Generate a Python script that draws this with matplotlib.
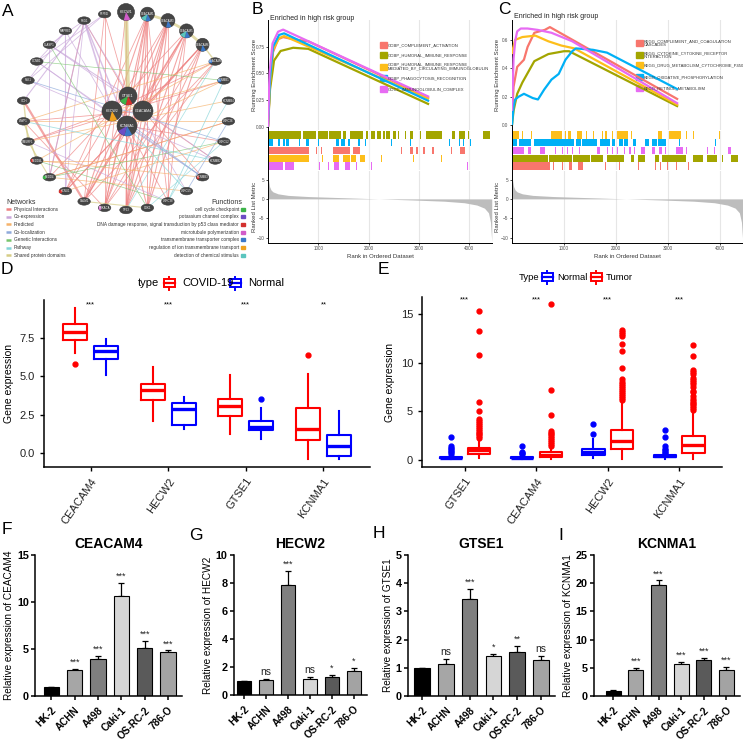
import numpy as np
import matplotlib.pyplot as plt
from matplotlib.patches import Circle, Ellipse, Wedge, Rectangle

W, H = 743, 742

# ---------------- A: GeneMANIA network ----------------
ring_genes = ['HECW1', 'CEACAM1', 'CEACAM3', 'CEACAM5', 'CEACAM6', 'CEACAM8', 'KCNMB1', 'KCNMB4',
              'LRRC26', 'LRRC52', 'KCNMB2', 'KCNMB3', 'LRRC55', 'LRRC38', 'CDK1', 'TP53', 'PRKACA',
              'CALM1', 'KCNU1', 'NEDD4', 'NEDD4L', 'SMURF1', 'WWP1', 'ITCH', 'PLK1', 'CCNB1',
              'CLASP1', 'MAPRE1', 'PSG1', 'PTPN6']
query_genes = ['GTSE1', 'HECW2', 'CEACAM4', 'KCNMA1']
nodes = ring_genes + query_genes

network_types = ['Physical Interactions', 'Co-expression', 'Predicted', 'Co-localization',
                 'Genetic Interactions', 'Pathway', 'Shared protein domains']
network_colors = ['#EE8080', '#C9A6DA', '#F5B26B', '#8EA9DB', '#78C56D', '#83D4D8', '#D6CD86']
network_edges = [
    [(32, 1, 0.8), (32, 2, 0.8), (32, 3, 0.8), (32, 4, 0.8), (33, 15, 0.8), (33, 14, 0.8), (33, 17, 1.0),
     (33, 13, 0.6), (33, 9, 0.6), (32, 10, 0.6), (1, 15, 1.0), (1, 16, 0.8), (2, 15, 1.0), (2, 14, 0.8),
     (2, 17, 0.8), (3, 15, 0.8), (3, 13, 0.6), (4, 14, 0.8), (4, 16, 0.6), (1, 17, 0.8), (2, 18, 0.6),
     (3, 19, 0.6), (5, 17, 0.6), (0, 15, 0.8), (29, 16, 0.6), (28, 19, 0.6), (23, 17, 1.6), (22, 16, 0.6),
     (31, 21, 0.6), (30, 29, 0.6), (1, 13, 0.6), (6, 21, 0.6), (8, 19, 0.6), (33, 18, 0.8), (32, 22, 0.6),
     (31, 5, 0.6), (33, 3, 0.8), (4, 18, 0.6), (3, 17, 0.8), (2, 16, 0.8), (1, 33, 0.8), (4, 33, 0.8),
     (1, 14, 0.7), (3, 14, 0.7), (4, 15, 0.7), (2, 13, 0.6), (32, 15, 0.7), (32, 16, 0.6), (30, 28, 0.6),
     (5, 16, 0.6), (1, 18, 0.6), (32, 11, 0.6), (0, 16, 0.6), (29, 17, 0.6), (30, 16, 0.6)],
    [(28, 31, 1.2), (28, 19, 0.8), (28, 23, 0.8), (27, 25, 0.6), (28, 26, 0.6), (26, 30, 0.8), (25, 11, 0.6),
     (28, 12, 0.6), (29, 24, 0.6), (27, 18, 0.8), (24, 10, 0.6), (25, 33, 0.6), (26, 10, 0.6), (13, 21, 0.6),
     (28, 33, 1.0), (27, 24, 0.6), (29, 25, 0.6), (28, 18, 0.6), (27, 31, 0.6), (26, 19, 0.6)],
    [(5, 20, 0.6), (6, 31, 0.6), (7, 21, 0.6), (8, 19, 0.6), (9, 18, 0.6), (10, 20, 0.6), (12, 19, 0.6),
     (22, 8, 0.6), (20, 11, 0.6), (6, 33, 0.6), (5, 22, 0.6)],
    [(33, 11, 0.6), (8, 12, 0.6), (24, 9, 0.6), (31, 11, 0.6)],
    [(25, 6, 0.5), (9, 19, 0.5), (13, 20, 0.5), (26, 14, 0.5)],
    [(33, 12, 0.6), (6, 13, 0.6), (10, 22, 0.6), (5, 15, 0.5), (7, 13, 0.5), (9, 14, 0.5)],
    [(0, 30, 3.0), (1, 2, 2.0), (2, 3, 2.0), (3, 4, 2.0), (4, 5, 1.0), (22, 20, 1.0), (23, 21, 1.0),
     (21, 19, 0.8), (17, 14, 0.8)],
]

function_names = ['cell cycle checkpoint', 'potassium channel complex',
                  'DNA damage response, signal transduction by p53 class mediator',
                  'microtubule polymerization', 'transmembrane transporter complex',
                  'regulation of ion transmembrane transport', 'detection of chemical stimulus']
function_colors = ['#3DB34A', '#6D4CC4', '#D3312E', '#D15CC9', '#3B78C9', '#F0A21F', '#5BC5BE']
node_functions = {0: [3], 1: [4, 6], 2: [4], 3: [4, 6], 4: [4], 5: [4], 6: [4], 16: [3], 18: [2],
                  19: [0], 20: [2], 11: [2], 30: [2, 0], 31: [5], 33: [4, 1]}

# ---------------- B / C: GSEA ----------------
gsea_colors = ['#F8766D', '#A3A500', '#FDBE1A', '#00B0F6', '#E76BF3']
b_labels = ['GOBP_COMPLEMENT_ACTIVATION', 'GOBP_HUMORAL_IMMUNE_RESPONSE',
            'GOBP_HUMORAL_IMMUNE_RESPONSE_\nMEDIATED_BY_CIRCULATING_IMMUNOGLOBULIN',
            'GOBP_PHAGOCYTOSIS_RECOGNITION', 'GOCC_IMMUNOGLOBULIN_COMPLEX']
b_curves = [
    ([0, 40, 100, 200, 300, 500, 800, 3200], [0, 0.40, 0.70, 0.82, 0.84, 0.82, 0.80, 0.27]),
    ([0, 40, 120, 250, 500, 800, 3200], [0, 0.35, 0.62, 0.71, 0.74, 0.73, 0.21]),
    ([0, 40, 100, 220, 320, 3200], [0, 0.42, 0.72, 0.83, 0.85, 0.26]),
    ([0, 40, 100, 220, 320, 3200], [0, 0.45, 0.75, 0.86, 0.875, 0.24]),
    ([0, 30, 90, 200, 300, 3200], [0, 0.50, 0.78, 0.89, 0.91, 0.28]),
]
b_hits = [
    [(0, 820), (950, 960), (1050, 1060), (1290, 1620), (1690, 1820), (1880, 1890), (1960, 1970),
     (2280, 2290), (2650, 2660), (2820, 2880), (2950, 2980), (3080, 3110), (3250, 3290), (3410, 3420),
     (3640, 3650), (3810, 3910)],
    [(0, 660), (690, 960), (1000, 1190), (1220, 1455), (1490, 1555), (1620, 1890), (1940, 1990),
     (2050, 2120), (2170, 2250), (2290, 2320), (2350, 2420), (2490, 2550), (2590, 2610), (2720, 2750),
     (2820, 2890), (3020, 3030), (3140, 3450), (3650, 3710), (3800, 3910), (3980, 3990), (4270, 4410)],
    [(0, 820), (1070, 1080), (1290, 1420), (1490, 1620), (1650, 1750), (1820, 1920), (2250, 2260),
     (2880, 2890), (3110, 3120), (3440, 3450)],
    [(0, 90), (190, 230), (290, 330), (360, 410), (620, 630), (760, 810), (990, 1000), (1350, 1420),
     (1460, 1520), (1590, 1620), (1790, 1820), (1920, 1940), (2450, 2460), (2830, 2840), (3310, 3320),
     (3450, 3460), (3600, 3610), (3800, 3810), (3880, 3890), (4010, 4020)],
    [(0, 290), (330, 520), (690, 700), (1020, 1030), (1190, 1200), (1320, 1410), (1520, 1620),
     (1750, 1760), (1920, 1930), (2050, 2060), (3450, 3460), (3950, 3960)],
]
b_row_order = [1, 3, 0, 2, 4]

c_labels = ['KEGG_COMPLEMENT_AND_COAGULATION\nCASCADES', 'KEGG_CYTOKINE_CYTOKINE_RECEPTOR\nINTERACTION',
            'KEGG_DRUG_METABOLISM_CYTOCHROME_P450', 'KEGG_OXIDATIVE_PHOSPHORYLATION',
            'KEGG_RETINOL_METABOLISM']
c_curves = [
    ([0, 30, 100, 230, 300, 430, 630, 730, 3200], [0.05, 0.27, 0.41, 0.46, 0.55, 0.65, 0.67, 0.69, 0.18]),
    ([0, 30, 100, 200, 430, 700, 1000, 1100, 3200], [0.0, 0.10, 0.22, 0.30, 0.45, 0.50, 0.52, 0.52, 0.13]),
    ([0, 20, 60, 200, 450, 700, 950, 1200, 3200], [0.50, 0.54, 0.60, 0.62, 0.63, 0.59, 0.56, 0.54, 0.14]),
    ([0, 30, 60, 130, 230, 400, 500, 620, 760, 900, 1030, 1160, 1230, 1560, 1830, 3200],
     [0, 0.13, 0.18, 0.20, 0.22, 0.19, 0.18, 0.25, 0.32, 0.36, 0.46, 0.52, 0.54, 0.53, 0.51, 0.25]),
    ([0, 30, 65, 100, 170, 300, 500, 760, 1160, 3200], [0.10, 0.47, 0.60, 0.66, 0.68, 0.68, 0.67, 0.65, 0.59, 0.15]),
]
c_hits = [
    [(0, 730), (797, 797), (963, 963), (1096, 1163), (1262, 1362), (1794, 1794), (2060, 2060),
     (2226, 2226), (2425, 2425), (2757, 2757), (2857, 2857), (2990, 2990), (3156, 3156), (3289, 3289),
     (3389, 3389)],
    [(0, 700), (720, 1150), (1170, 1500), (1520, 1760), (1827, 2159), (2226, 2226), (2292, 2359),
     (2425, 2558), (2757, 2824), (2890, 3355), (3488, 3688), (3754, 3953), (4053, 4053), (4219, 4352)],
    [(0, 130), (190, 200), (265, 275), (365, 375), (630, 640), (760, 960), (1030, 1040), (1080, 1130),
     (1260, 1350), (1430, 1440), (1560, 1570), (1730, 1760), (1790, 1830), (1930, 1940), (2030, 2230),
     (2290, 2300), (2360, 2370), (2420, 2430), (2820, 2890), (3020, 3260), (3350, 3360), (3490, 3500),
     (3790, 3800), (3990, 4000), (4190, 4200)],
    [(0, 100), (130, 370), (430, 1200), (1230, 1320), (1350, 1630), (1690, 1890), (1930, 1990),
     (2060, 2130), (2160, 2230), (2330, 2390), (2560, 2630), (2690, 2790), (2820, 2960), (3220, 3230),
     (3790, 3800), (3920, 3930)],
    [(0, 230), (300, 365), (530, 630), (764, 764), (830, 830), (963, 963), (1063, 1063), (1163, 1163),
     (1296, 1296), (1362, 1362), (1628, 1694), (1827, 1827), (1927, 1927), (2027, 2027), (2159, 2159),
     (2259, 2292), (2359, 2359), (2492, 2558), (2691, 2757), (2824, 2890), (2957, 2957), (3156, 3289),
     (3355, 3355), (3555, 3555), (3754, 3754), (3887, 3887), (4153, 4219)],
]
c_row_order = [2, 3, 4, 1, 0]

rank_pts = [0, 10, 30, 60, 100, 200, 400, 800, 1500, 2200, 2900, 3500, 3900, 4150, 4300, 4380, 4420, 4445]
metric_pts = [6.8, 5.0, 3.2, 2.3, 1.8, 1.3, 0.9, 0.6, 0.3, 0.0, -0.3, -0.6, -1.0, -1.6, -2.4, -3.6, -6.0, -11.0]

# ---------------- D: COVID-19 vs Normal ----------------
d_genes = ['CEACAM4', 'HECW2', 'GTSE1', 'KCNMA1']
# whislo, q1, median, q3, whishi
d_covid = [[6.48, 7.35, 7.85, 8.37, 9.41], [2.10, 3.43, 4.09, 4.46, 5.60],
           [1.22, 2.41, 3.07, 3.54, 5.07], [-0.37, 0.87, 1.59, 2.93, 5.17]]
d_covid_out = [[5.78], [], [], [6.41]]
d_normal = [[5.10, 6.10, 6.65, 6.96, 7.41], [1.54, 1.80, 2.85, 3.26, 3.65],
            [0.89, 1.48, 1.70, 2.07, 2.93], [-0.37, -0.20, 0.46, 1.20, 2.74]]
d_normal_out = [[], [], [3.54], []]
d_sig = ['***', '***', '***', '**']

# ---------------- E: Normal vs Tumor ----------------
e_genes = ['GTSE1', 'CEACAM4', 'HECW2', 'KCNMA1']
e_normal = [[0.05, 0.15, 0.22, 0.32, 0.50], [0.05, 0.15, 0.22, 0.32, 0.50],
            [0.15, 0.48, 0.82, 1.15, 2.10], [0.10, 0.25, 0.35, 0.45, 0.70]]
e_normal_out = [[0.60, 0.75, 0.90, 1.10, 1.25, 1.40, 2.34], [0.55, 0.65, 0.80, 1.40],
                [2.65, 3.65], [0.70, 0.80, 0.95, 1.10, 1.40, 2.35, 3.10]]
e_tumor = [[0.15, 0.55, 0.96, 1.20, 2.10], [0.08, 0.25, 0.45, 0.80, 1.30],
           [0.10, 1.07, 1.93, 3.10, 5.95], [0.10, 0.72, 1.48, 2.44, 4.92]]
e_tumor_out = [[2.2, 2.4, 2.6, 2.8, 3.0, 3.2, 3.4, 3.6, 3.8, 4.0, 4.2, 5.0, 5.95, 10.77, 13.24, 15.4],
               [1.4, 1.6, 1.8, 2.0, 2.2, 2.4, 2.6, 2.8, 3.0, 4.64, 7.15, 16.03],
               [6.2, 6.4, 6.6, 6.8, 7.0, 7.2, 7.4, 7.6, 7.8, 8.0, 8.3, 9.5, 11.2, 11.9, 12.8, 13.0, 13.2, 13.35],
               [5.1, 5.3, 5.5, 5.7, 5.9, 6.1, 6.3, 6.6, 7.0, 7.1, 7.5, 7.8, 8.0, 8.2, 8.4, 8.8, 9.1, 9.3, 10.7, 11.8]]
e_sig = ['***', '***', '***', '***']

# ---------------- F-I: qPCR ----------------
cell_lines = ['HK-2', 'ACHN', 'A498', 'Caki-1', 'OS-RC-2', '786-O']
bar_colors = ['#000000', '#a6a6a6', '#7f7f7f', '#d6d6d6', '#5a5a5a', '#a3a3a3']
ceacam4_mean = [1.0, 2.75, 3.95, 10.65, 5.1, 4.65]
ceacam4_err = [0.0, 0.1, 0.3, 1.4, 0.8, 0.2]
ceacam4_sig = ['', '***', '***', '***', '***', '***']
hecw2_mean = [1.0, 1.07, 7.85, 1.12, 1.28, 1.7]
hecw2_err = [0.0, 0.07, 1.0, 0.15, 0.15, 0.25]
hecw2_sig = ['', 'ns', '***', 'ns', '*', '*']
gtse1_mean = [1.0, 1.15, 3.43, 1.41, 1.55, 1.29]
gtse1_err = [0.0, 0.15, 0.38, 0.08, 0.22, 0.13]
gtse1_sig = ['', 'ns', '***', '*', '**', 'ns']
kcnma1_mean = [0.95, 4.6, 19.7, 5.6, 6.35, 4.55]
kcnma1_err = [0.1, 0.4, 0.8, 0.5, 0.35, 0.6]
kcnma1_sig = ['', '***', '***', '***', '***', '***']

plt.rcParams['font.family'] = ['Liberation Sans', 'DejaVu Sans']
fig = plt.figure(figsize=(W / 100, H / 100), dpi=100)


def px_axes(l, t, r, b):
    return fig.add_axes([l / W, 1 - b / H, (r - l) / W, (b - t) / H])


# ===== A =====
axA = px_axes(0, 0, 250, 262)
axA.set_xlim(0, 250)
axA.set_ylim(262, 0)
axA.axis('off')
ang = np.deg2rad(90 - 360 / len(ring_genes) * np.arange(len(ring_genes)))
ring_xy = np.column_stack([126 + 103 * np.cos(ang), 111 - 99 * np.sin(ang)])
query_xy = np.array([[128, 96], [112, 111], [143, 111], [127, 126]])
node_xy = np.vstack([ring_xy, query_xy])
node_r = [8.5, 7, 7, 7, 6.5] + [5] * 25 + [9, 10, 10, 10]
for k, edges in enumerate(network_edges):
    for a, b, w in edges:
        axA.plot([node_xy[a, 0], node_xy[b, 0]], [node_xy[a, 1], node_xy[b, 1]],
                 color=network_colors[k], lw=w, alpha=0.7, zorder=1, solid_capstyle='butt')
for i, (x, y) in enumerate(node_xy):
    r = node_r[i]
    if r <= 5:
        axA.add_patch(Ellipse((x, y), 12.5, 7.5, facecolor='#454545', edgecolor='#383838', lw=0.4, zorder=3))
    else:
        axA.add_patch(Circle((x, y), r, facecolor='#454545', edgecolor='#383838', lw=0.4, zorder=3))
        for j, f in enumerate(node_functions.get(i, [])):
            axA.add_patch(Wedge((x, y), r, 60 + 45 * j, 105 + 45 * j, facecolor=function_colors[f],
                                edgecolor='none', zorder=4))
    if r <= 5:
        for j, f in enumerate(node_functions.get(i, [])):
            axA.add_patch(Rectangle((x - 6, y - 1.5 + 2 * j), 1.6, 2.2, color=function_colors[f], zorder=4))
    axA.text(x, y, nodes[i], color='white', fontsize=2.0 if r <= 7 else 2.6, ha='center', va='center', zorder=5)

axA.text(6, 202, 'Networks', fontsize=5, va='center', color='#333333')
axA.text(242, 202, 'Functions', fontsize=5, va='center', ha='right', color='#333333')
for i, name in enumerate(network_types):
    yy = 209 + i * 7.7
    axA.plot([6, 11], [yy, yy], color=network_colors[i], lw=1.8, solid_capstyle='butt')
    axA.text(14, yy, name, fontsize=3.4, va='center', color='#333333')
for i, name in enumerate(function_names):
    yy = 209 + i * 7.7
    axA.add_patch(Rectangle((241.5, yy - 1.5), 4, 3, color=function_colors[i]))
    axA.text(239, yy, name, fontsize=3.4, va='center', ha='right', color='#333333')


# ===== B / C =====
def gsea_panel(l, r, es_lim, es_ticks, es_fmt, curves, hits, row_order, labels, leg_x, leg_y, title_y):
    ax = px_axes(l, 20, r, 130)
    ax.set_xlim(0, 4450)
    ax.set_ylim(*es_lim)
    for i, (xs, ys) in enumerate(curves):
        ax.plot(xs, ys, color=gsea_colors[i], lw=1.6, zorder=3, solid_capstyle='butt')
    ax.set_xticks([1000, 2000, 3000, 4000])
    ax.grid(axis='x', color='#e6e6e6', lw=0.8)
    ax.tick_params(axis='x', length=0, labelbottom=False)
    ax.set_yticks(es_ticks)
    ax.set_yticklabels([es_fmt.format(v) for v in es_ticks])
    ax.tick_params(axis='y', labelsize=3.3, length=1.5, width=0.5, pad=1, labelcolor='#4d4d4d')
    for s in ['top', 'right', 'bottom']:
        ax.spines[s].set_visible(False)
    ax.spines['left'].set_linewidth(0.7)
    ax.set_ylabel('Running Enrichment Score', fontsize=4.3, color='#333333')
    ax.yaxis.set_label_coords(-0.05, 0.5)
    ax.text(0.01, 1 - (title_y - 20) / 110, 'Enriched in high risk group', transform=ax.transAxes,
            fontsize=5, va='center', color='#222222', clip_on=False)
    for i, lab in enumerate(labels):
        ax.add_patch(Rectangle(((leg_x - l) / (r - l) - 0.035, 1 - (leg_y[i] + 3) / 110), 0.03, 6 / 110,
                               transform=ax.transAxes, color=gsea_colors[i], clip_on=False))
        ax.text((leg_x - l) / (r - l), 1 - leg_y[i] / 110, lab, transform=ax.transAxes,
                fontsize=3.0, va='center', color='#333333', linespacing=0.95)

    bc = px_axes(l, 131, r, 170)
    bc.set_xlim(0, 4450)
    bc.set_ylim(0, 5)
    for row, gs in enumerate(row_order):
        segs = [(a, max(b - a, 14)) for a, b in hits[gs]]
        bc.broken_barh(segs, (4 - row + 0.02, 0.96), color=gsea_colors[gs], lw=0)
    bc.set_xticks([1000, 2000, 3000, 4000])
    bc.grid(axis='x', color='#ececec', lw=0.8)
    bc.set_axisbelow(True)
    bc.set_yticks([])
    bc.tick_params(axis='x', length=0, labelbottom=False)
    for s in ['top', 'right', 'bottom']:
        bc.spines[s].set_visible(False)
    bc.spines['left'].set_linewidth(0.7)

    rk = px_axes(l, 171, r, 243)
    rk.set_xlim(0, 4450)
    rk.set_ylim(-11.4, 7.2)
    rk.fill_between(rank_pts, metric_pts, 0, color='#bdbdbd', lw=0)
    rk.set_xticks([1000, 2000, 3000, 4000])
    rk.set_yticks([-10, -5, 0, 5])
    rk.grid(axis='x', color='#e6e6e6', lw=0.8)
    rk.set_axisbelow(True)
    rk.tick_params(labelsize=3.3, length=1.5, width=0.5, pad=1, labelcolor='#4d4d4d')
    for s in ['top', 'right']:
        rk.spines[s].set_visible(False)
    rk.spines['left'].set_linewidth(0.7)
    rk.spines['bottom'].set_linewidth(0.7)
    rk.set_xlabel('Rank in Ordered Dataset', fontsize=4.3, color='#333333', labelpad=1.5)
    rk.set_ylabel('Ranked List Metric', fontsize=4.3, color='#333333')
    rk.yaxis.set_label_coords(-0.05, 0.5)
    return ax


gsea_panel(268, 492, (-0.03, 1.0), [0.0, 0.25, 0.5, 0.75], '{:.2f}', b_curves, b_hits, b_row_order,
           b_labels, 388, [25, 35, 46.5, 58, 69], 19)
gsea_panel(512, 743, (-0.035, 0.74), [0.0, 0.2, 0.4, 0.6], '{:.1f}', c_curves, c_hits, c_row_order,
           c_labels, 644, [23, 35, 45, 57, 68], 16)


# ===== D / E =====
def five(s, fl):
    return dict(whislo=s[0], q1=s[1], med=s[2], q3=s[3], whishi=s[4], fliers=fl)


def box_panel(l, t, r, b, genes, left_s, left_o, right_s, right_o, left_c, right_c, ylim, yticks, yfmt, sig, sig_y):
    ax = px_axes(l, t, r, b)
    pos = np.arange(1, len(genes) + 1)
    for stats, outs, off, col in [(left_s, left_o, -0.2, left_c), (right_s, right_o, 0.2, right_c)]:
        ax.bxp([five(s, o) for s, o in zip(stats, outs)], positions=pos + off, widths=0.31,
               boxprops=dict(color=col, lw=1.5), whiskerprops=dict(color=col, lw=1.5),
               capprops=dict(lw=0), medianprops=dict(color=col, lw=2.4),
               flierprops=dict(marker='o', markerfacecolor=col, markeredgecolor=col, markersize=3.5))
    ax.set_xlim(0.4, len(genes) + 0.6)
    ax.set_ylim(*ylim)
    ax.set_yticks(yticks)
    ax.set_yticklabels([yfmt.format(v) for v in yticks])
    ax.set_xticks(pos)
    ax.set_xticklabels(genes, rotation=55, ha='right', va='top', rotation_mode='anchor')
    ax.tick_params(labelsize=8, length=3, width=1, labelcolor='#222222')
    for s in ['top', 'right']:
        ax.spines[s].set_visible(False)
    ax.spines['left'].set_linewidth(1.1)
    ax.spines['bottom'].set_linewidth(1.1)
    ax.set_ylabel('Gene expression', fontsize=7.5)
    for p, s in zip(pos, sig):
        ax.text(p, sig_y, s, ha='center', va='center', fontsize=5.5)
    return ax


box_panel(44, 300, 370, 467, d_genes, d_covid, d_covid_out, d_normal, d_normal_out, '#FF0000', '#0000FF',
          (-0.91, 9.96), [0, 2.5, 5.0, 7.5], '{:.1f}', d_sig, 9.65)
box_panel(422, 297, 722, 467, e_genes, e_normal, e_normal_out, e_tumor, e_tumor_out, '#0000FF', '#FF0000',
          (-0.76, 16.8), [0, 5, 10, 15], '{:.0f}', e_sig, 16.5)


# ===== F-I =====
def bar_panel(l, t, r, b, gene, vals, errs, sig, ymax, ystep, x0):
    ax = px_axes(l, t, r, b)
    x = np.arange(len(cell_lines))
    ax.bar(x, vals, width=0.66, color=bar_colors, edgecolor='black', linewidth=0.8, zorder=2)
    ax.errorbar(x, vals, yerr=[np.zeros(len(vals)), errs], fmt='none', ecolor='black',
                elinewidth=0.9, capsize=2.5, capthick=0.9, zorder=1)
    for xi, v, e, s in zip(x, vals, errs, sig):
        if s:
            ax.text(xi, v + e + ymax * 0.015, s, ha='center', va='bottom',
                    fontsize=7.5 if s == 'ns' else 6.5, color='#222222')
    ax.set_xlim(x0, 5.6)
    ax.set_ylim(0, ymax)
    ax.set_yticks(np.arange(0, ymax + 0.01, ystep))
    ax.set_xticks(x)
    ax.set_xticklabels(cell_lines, rotation=45, ha='right', va='top', rotation_mode='anchor')
    ax.tick_params(axis='x', labelsize=7.2, length=3, width=1.1)
    ax.tick_params(axis='y', labelsize=7.8, length=3, width=1.1, pad=1.5)
    for lab in ax.get_xticklabels() + ax.get_yticklabels():
        lab.set_fontweight('bold')
    for s in ['top', 'right']:
        ax.spines[s].set_visible(False)
    ax.spines['left'].set_linewidth(1.1)
    ax.spines['bottom'].set_linewidth(1.1)
    ax.set_title(gene, fontsize=10, fontweight='bold', pad=5)
    ax.set_ylabel(f'Relative expression of {gene}', fontsize=7.2, labelpad=2)
    return ax


bar_panel(35, 555, 182, 696, 'CEACAM4', ceacam4_mean, ceacam4_err, ceacam4_sig, 15, 5, -0.7)
bar_panel(234, 555, 367, 695, 'HECW2', hecw2_mean, hecw2_err, hecw2_sig, 10, 2, -0.45)
bar_panel(408, 555, 555, 696, 'GTSE1', gtse1_mean, gtse1_err, gtse1_sig, 5, 1, -0.6)
bar_panel(594, 555, 740, 696, 'KCNMA1', kcnma1_mean, kcnma1_err, kcnma1_sig, 25, 5, -0.85)

# ===== overlay: panel letters and box legends =====
ov = fig.add_axes([0, 0, 1, 1])
ov.set_xlim(0, W)
ov.set_ylim(H, 0)
ov.axis('off')
for letter, lx, ly in [('A', 8, 11), ('B', 257, 9), ('C', 504, 9), ('D', 7, 270), ('E', 383, 269),
                       ('F', 7, 530), ('G', 196, 536), ('H', 379, 534), ('I', 561, 536)]:
    ov.text(lx, ly, letter, fontsize=12.5, ha='center', va='center')


def box_key(x, y, col):
    ov.add_patch(Rectangle((x - 5.5, y - 4), 11, 8, facecolor='white', edgecolor=col, lw=1.4))
    ov.plot([x - 5.5, x + 5.5], [y, y], color=col, lw=1.6)
    ov.plot([x, x], [y - 6.5, y - 4], color=col, lw=1.4)
    ov.plot([x, x], [y + 4, y + 6.5], color=col, lw=1.4)


ov.text(138, 283, 'type', fontsize=8, va='center')
box_key(169, 283, '#FF0000')
ov.text(182, 283, 'COVID-19', fontsize=8, va='center')
box_key(235, 283, '#0000FF')
ov.text(248, 283, 'Normal', fontsize=8, va='center')

ov.text(519, 277, 'Type', fontsize=6.8, va='center')
box_key(547, 277, '#0000FF')
ov.text(557, 277, 'Normal', fontsize=6.8, va='center')
box_key(596, 277, '#FF0000')
ov.text(606, 277, 'Tumor', fontsize=6.8, va='center')

fig.savefig('out.png', dpi=100)
